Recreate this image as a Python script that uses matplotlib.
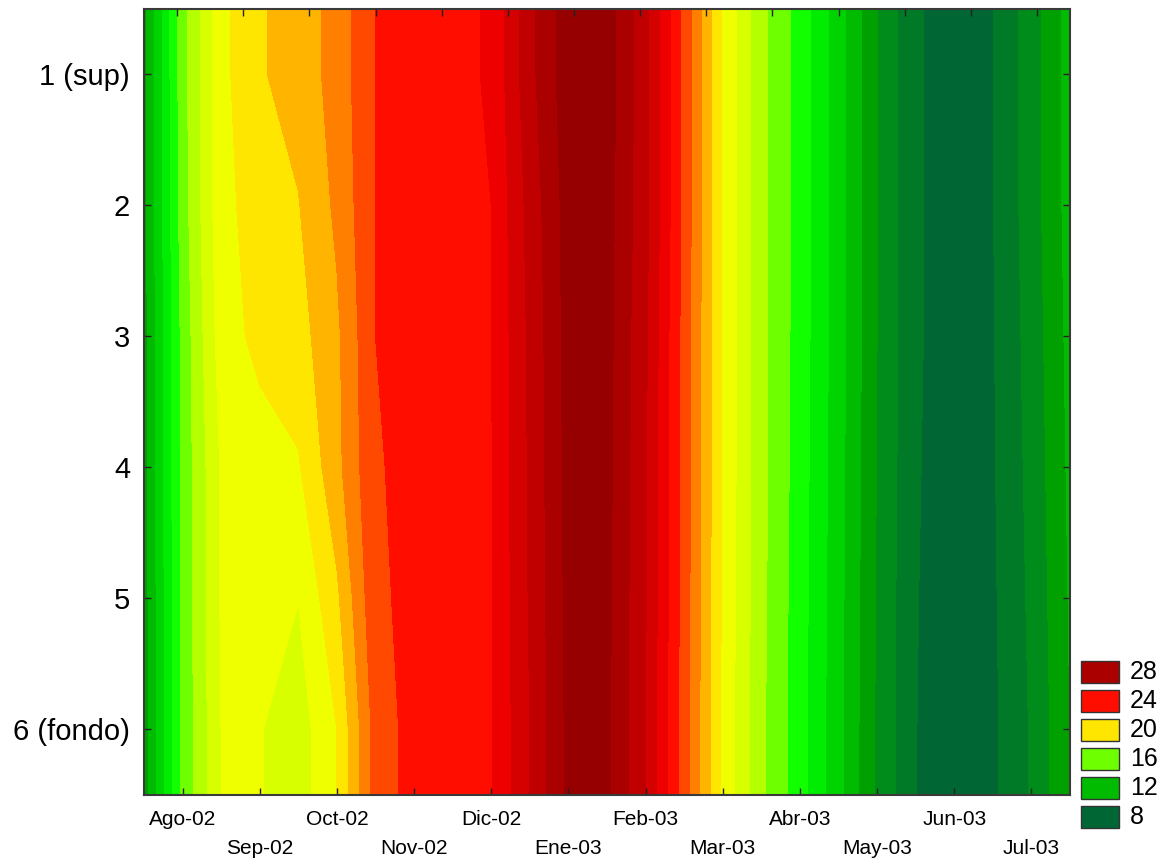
import numpy as np
import matplotlib
matplotlib.use("Agg")
import matplotlib.pyplot as plt
from matplotlib.colors import ListedColormap, BoundaryNorm
from matplotlib.patches import Rectangle

plt.rcParams['font.family'] = ['Liberation Sans', 'DejaVu Sans']

# Monthly axis labels (Aug 2002 - Jul 2003) and depth levels
month_labels = ["Ago-02", "Sep-02", "Oct-02", "Nov-02", "Dic-02", "Ene-03",
                "Feb-03", "Mar-03", "Abr-03", "May-03", "Jun-03", "Jul-03"]
depth_labels = ["1 (sup)", "2", "3", "4", "5", "6 (fondo)"]
depths = [1, 2, 3, 4, 5, 6]

# Sampling times in months since Aug-02 (half-month steps)
sample_time = [-0.5, 0.0, 0.5, 1.0, 1.5, 2.0, 2.5, 3.0, 3.5, 4.0, 4.5, 5.0, 5.5,
               6.0, 6.5, 7.0, 7.5, 8.0, 8.5, 9.0, 9.5, 10.0, 10.5, 11.0, 11.5]

# Temperature (deg C) at each depth level
temp_d1 = [11.7, 16.6, 19.7, 20.9, 21.4, 22.4, 24.0, 24.4, 24.75, 25.1, 27.7, 29.6, 29.5,
           27.3, 23.7, 19.9, 17.3, 15.56, 13.46, 11.0, 9.15, 8.4, 8.98, 10.5, 12.4]
temp_d2 = [11.7, 16.5, 19.7, 20.45, 20.95, 22.2, 24.0, 24.35, 24.7, 25.0, 27.35, 29.45, 29.4,
           27.3, 23.7, 19.9, 17.3, 15.56, 13.46, 11.0, 9.15, 8.4, 8.97, 10.5, 12.4]
temp_d3 = [11.6, 16.3, 19.5, 20.3, 20.6, 21.8, 24.0, 24.33, 24.65, 24.97, 27.2, 29.4, 29.35,
           27.15, 23.6, 19.9, 17.3, 15.55, 13.45, 11.0, 9.15, 8.4, 8.93, 10.4, 12.3]
temp_d4 = [11.6, 16.3, 19.1, 19.5, 19.9, 21.7, 23.9, 24.3, 24.63, 24.95, 27.15, 29.35, 29.3,
           27.1, 23.6, 19.9, 17.3, 15.5, 13.4, 10.95, 9.1, 8.4, 8.9, 10.3, 12.2]
temp_d5 = [11.5, 16.3, 19.1, 19.15, 19.02, 20.8, 23.8, 24.28, 24.61, 24.94, 27.1, 29.3, 29.25,
           27.05, 23.55, 19.85, 17.25, 15.45, 13.35, 10.9, 9.05, 8.4, 8.85, 10.2, 12.1]
temp_d6 = [11.4, 16.2, 19.01, 19.05, 18.5, 20.0, 23.4, 24.4, 24.62, 24.93, 27.0, 29.25, 29.2,
           27.0, 23.5, 19.8, 17.2, 15.4, 13.3, 10.85, 9.02, 8.4, 8.8, 10.1, 12.0]

# Contour levels (1 degree) and the colour of each band [k, k+1)
levels = list(range(8, 31))
band_colors = ["#006633", "#007a26", "#008c1a", "#00a000", "#00bb00", "#00d400",
               "#00ec00", "#12ff00", "#6eff00", "#b4ff00", "#d8ff00", "#f0ff00",
               "#ffe600", "#ffb400", "#ff8000", "#ff4800", "#ff0e00", "#ee0000",
               "#d50000", "#c00000", "#aa0000", "#960000"]
legend_values = [28, 24, 20, 16, 12, 8]

W, H = 1168, 859
fig = plt.figure(figsize=(W / 100, H / 100), dpi=100)
ax = fig.add_axes([144 / W, 1 - 795 / H, 926 / W, 786 / H])

# Grid: repeat the surface and bottom rows out to the axis edges
T = np.array([temp_d1, temp_d2, temp_d3, temp_d4, temp_d5, temp_d6])
T = np.pad(T, ((1, 1), (0, 0)), mode="edge")
y = np.concatenate([[0.5], depths, [6.5]])

cmap = ListedColormap(band_colors)
norm = BoundaryNorm(levels, cmap.N)
ax.contourf(sample_time, y, T, levels=levels, cmap=cmap, norm=norm, antialiased=False)

ax.set_xlim(-0.5, 11.5)
ax.set_ylim(6.5, 0.5)

# Alternating two-row month labels
ax.set_xticks(range(len(month_labels)))
xlabels = [m if i % 2 == 0 else "\n" + m for i, m in enumerate(month_labels)]
ax.set_xticklabels(xlabels, fontsize=15, linespacing=1.62)
ax.set_yticks(depths)
ax.set_yticklabels(depth_labels, fontsize=21)

ax.tick_params(axis="x", direction="in", length=5, width=1, pad=11, top=False, color="#222222")
ax.tick_params(axis="y", direction="in", length=5, width=1, pad=10, right=True, color="#222222")

for s in ax.spines.values():
    s.set_linewidth(1.5)
    s.set_color("#3a3a3a")

# Sampling-campaign ticks along the top edge
ax2 = ax.twiny()
ax2.set_xlim(0.5, 14.5)
ax2.set_xticks(np.arange(1, 15))
ax2.tick_params(axis="x", direction="in", length=5, width=1, top=True, labeltop=False,
                bottom=False, labelbottom=False, color="#222222")
for s in ax2.spines.values():
    s.set_visible(False)

# Colour key
box_x, box_w, box_h, first_top, step = 1081, 38, 22, 661, 29
for i, v in enumerate(legend_values):
    top = first_top + i * step
    color = band_colors[levels.index(v)]
    fig.add_artist(Rectangle((box_x / W, 1 - (top + box_h) / H), box_w / W, box_h / H,
                             transform=fig.transFigure, facecolor=color,
                             edgecolor="#333333", linewidth=1.0))
    fig.text(1130 / W, 1 - (top + box_h / 2) / H, str(v), fontsize=18,
             ha="left", va="center")

fig.savefig("out.png", dpi=100)
